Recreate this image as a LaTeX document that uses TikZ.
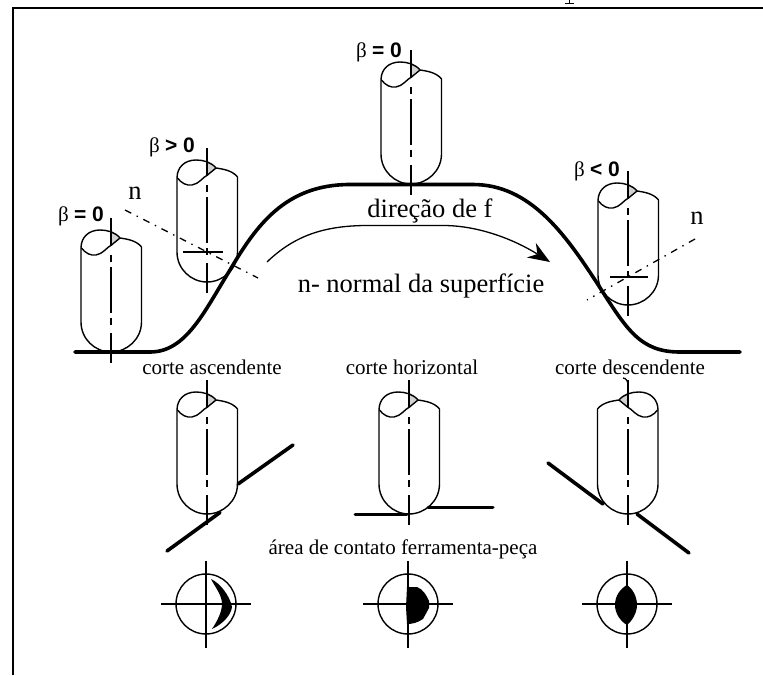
\documentclass[tikz,border=0pt]{standalone}
\usepackage{fontspec}
\setmainfont{Liberation Serif}
\setsansfont{Liberation Sans}
\usetikzlibrary{arrows.meta, positioning, calc}

\tikzset{
  peca/.style={line width=3.6pt, line cap=round},
  normal/.style={line width=1.3pt, dash pattern=on 7pt off 6pt on 1.5pt off 6pt},
  rotulo/.style={inner sep=0pt, font=\fontsize{26.5}{28}\selectfont},
  corte/.style={inner sep=0pt, font=\fontsize{21}{22}\selectfont},
  beta/.style={inner sep=0pt, font=\fontsize{21}{22}\selectfont},
  pics/fresa/.style={code={
    \fill[gray!35] (0,-122) -- (9,-114) -- (0,-107) -- cycle;
    \draw[line width=1.4pt] (-30,-30) -- (-30,-104)
      .. controls (-30,-115) and (-22,-122) .. (-11,-122)
      .. controls (-4,-122) and (4,-120) .. (9,-114)
      .. controls (15,-113) and (25,-112) .. (30.5,-105)
      -- (30.5,-30)
      .. controls (30.5,-13) and (16,0) .. (0,0)
      .. controls (-16,0) and (-30,-13) .. (-30,-30);
    \draw[line width=1.4pt] (-29.5,-104)
      .. controls (-26,-99) and (-20,-96) .. (-15,-97)
      .. controls (-8,-98) and (-4,-105) .. (0.5,-107) -- (9,-114);
    % linha de centro
    \foreach \a/\b in {134/106, 97/90, 85/39, 34/27, 19/-11}
      \draw[line width=1.3pt] (0,-\a) -- (0,-\b);
  }},
  pics/alvo/.style={code={
    \draw[line width=1.4pt] (0,0) circle (30);
    \draw[line width=1.4pt] (-45,0) -- (45,0);
    \draw[line width=1.4pt] (0,-43) -- (0,44);
  }}
}

\begin{document}
\begin{tikzpicture}[x=1pt, y=-1pt]
  \useasboundingbox (0,0) rectangle (763,675);

  % moldura
  \coordinate (cantoA) at (13,675);
  \coordinate (cantoB) at (13,8);
  \coordinate (cantoC) at (763,8);
  \draw[line width=1.8pt] (cantoA) -- (cantoB) -- (cantoC);
  \coordinate (hasteA) at (569.5,0);
  \coordinate (hasteB) at (569.5,3.6);
  \coordinate (hasteC) at (565,3.6);
  \coordinate (hasteD) at (574,3.6);
  \draw[line width=1.6pt] (hasteA) -- (hasteB);
  \draw[line width=1pt] (hasteC) -- (hasteD);

  % superficie
  \draw[peca] (75,352) -- (150,352)
    .. controls (186,352) and (204,312) .. (230,270)
    .. controls (256,226) and (285,184.5) .. (350,184.5)
    -- (473,184.5)
    .. controls (530,184.5) and (565,234) .. (597,283)
    .. controls (627,330) and (640,352) .. (680,352)
    -- (740,352);

  % fresas
  \pic (fresaA) at (111,352) {fresa};
  \pic (fresaB) at (207,282) {fresa};
  \pic (fresaC) at (411,184) {fresa};
  \pic (fresaD) at (628,305) {fresa};
  \pic (fresaE) at (207,514) {fresa};
  \pic (fresaF) at (409,514) {fresa};
  \pic[xscale=-1] (fresaG) at (628,514) {fresa};
  \coordinate (ganchoA) at (623,378);
  \coordinate (ganchoB) at (628,385);
  \draw[line width=1.3pt] (ganchoA) to[out=0, in=90] (ganchoB);

  % normais
  \coordinate (nB1) at (125,210);
  \coordinate (nB2) at (258,278);
  \coordinate (nD1) at (695,239);
  \coordinate (nD2) at (587,300);
  \draw[normal] (nB1) -- (nB2);
  \draw[normal] (nD1) -- (nD2);
  \coordinate (tB1) at (183,252);
  \coordinate (tB2) at (223,252);
  \coordinate (tD1) at (610,277);
  \coordinate (tD2) at (648,277);
  \draw[line width=1.6pt] (tB1) -- (tB2);
  \draw[line width=1.6pt] (tD1) -- (tD2);

  % direcao de f
  \coordinate (dirA) at (267,262);
  \coordinate (dirB) at (550,262);
  \draw[line width=1.3pt, -{Stealth[length=22pt, width=17pt]}] (dirA)
    .. controls (295,235) and (325,226) .. (365,225.5)
    -- (445,225.5)
    .. controls (480,226) and (515,240) .. (dirB);

  % pecas de baixo
  \coordinate (eA) at (167,551);
  \coordinate (eB) at (220,512.5);
  \coordinate (eC) at (238,484);
  \coordinate (eD) at (293,445);
  \draw[peca] (eA) -- (eB);
  \draw[peca] (eC) -- (eD);
  \coordinate (fA) at (355,514);
  \coordinate (fB) at (407,514);
  \coordinate (fC) at (428,507);
  \coordinate (fD) at (493,507);
  \draw[line width=3pt, line cap=round] (fA) -- (fB);
  \draw[line width=3pt, line cap=round] (fC) -- (fD);
  \coordinate (gA) at (548,463);
  \coordinate (gB) at (603,504);
  \coordinate (gC) at (637,514);
  \coordinate (gD) at (689,553);
  \draw[peca] (gA) -- (gB);
  \draw[peca] (gC) -- (gD);

  % areas de contato
  \pic (alvoE) at (206,604) {alvo};
  \pic (alvoF) at (408,604) {alvo};
  \pic (alvoG) at (627,604) {alvo};
  \fill[shift={(206,604)}] (5,-25) .. controls (14,-21) and (24,-8) .. (26,3)
    .. controls (25,11) and (17,20) .. (6,25)
    .. controls (12,16) and (16,7) .. (16,0)
    .. controls (16,-9) and (9,-17) .. (5,-25) -- cycle;
  \fill[shift={(408,604)}] (-1,-17) -- (9,-17) .. controls (15,-15) and (19,-8) .. (21,-3)
    -- (21,4) -- (15,15) .. controls (9,19) and (4,20) .. (-1,20)
    -- (-2,3) -- cycle;
  \fill[shift={(627,604)}] (0,-19) .. controls (6,-15) and (10,-7) .. (10,1)
    .. controls (10,9) and (5,17) .. (0,21)
    .. controls (-7,17) and (-12,9) .. (-12,1)
    .. controls (-12,-8) and (-7,-15) .. (0,-19) -- cycle;

  % textos
  \node[rotulo] (dirTxt) at (430,211) {direção de f};
  \node[rotulo] (normalTxt) at (421,286) {n- normal da superfície};
  \node[rotulo] (nEsq) at (135,193) {n};
  \node[rotulo] (nDir) at (697,218) {n};
  \node[corte] (cAsc) at (212,367) {corte ascendente};
  \node[corte] (cHor) at (412,367) {corte horizontal};
  \node[corte] (cDes) at (630,367) {corte descendente};
  \node[corte] (areaTxt) at (403,549) {área de contato ferramenta-peça};
  \node[beta] (betaA) at (81,216) {β {\sffamily\bfseries = 0}};
  \node[beta] (betaB) at (172,147) {β {\sffamily\bfseries > 0}};
  \node[beta] (betaC) at (379,52) {β {\sffamily\bfseries = 0}};
  \node[beta] (betaD) at (597,171) {β {\sffamily\bfseries < 0}};
\end{tikzpicture}
\end{document}
